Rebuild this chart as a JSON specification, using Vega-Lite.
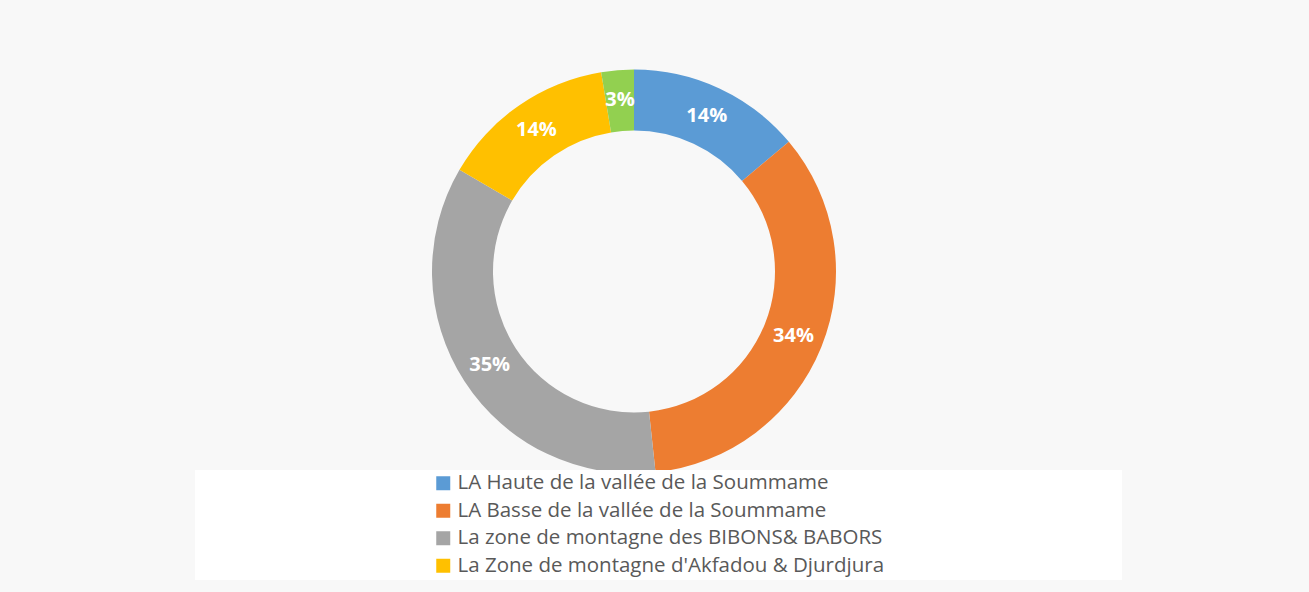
{
  "$schema": "https://vega.github.io/schema/vega-lite/v6.json",
  "autosize": {"type": "none"},
  "width": 1268,
  "height": 543,
  "padding": {"left": 0, "top": 0, "right": 41, "bottom": 49},
  "background": "#f8f8f8",
  "config": {"view": {"stroke": null}},
  "data": {
    "values": [
      {"idx": 1, "zone": "LA Haute de la vallée de la Soummame", "share": 0.139},
      {"idx": 2, "zone": "LA Basse de la vallée de la Soummame", "share": 0.344},
      {"idx": 3, "zone": "La zone de montagne des BIBONS& BABORS", "share": 0.351},
      {"idx": 4, "zone": "La Zone de montagne d'Akfadou & Djurdjura", "share": 0.14},
      {"idx": 5, "zone": "Autres", "share": 0.026}
    ]
  },
  "layer": [
    {
      "mark": {"type": "arc", "outerRadius": 202, "innerRadius": 141},
      "encoding": {
        "theta": {"field": "share", "type": "quantitative", "stack": true},
        "order": {"field": "idx", "type": "quantitative"},
        "color": {
          "field": "zone",
          "type": "nominal",
          "scale": {
            "domain": [
              "LA Haute de la vallée de la Soummame",
              "LA Basse de la vallée de la Soummame",
              "La zone de montagne des BIBONS& BABORS",
              "La Zone de montagne d'Akfadou & Djurdjura",
              "Autres"
            ],
            "range": ["#5b9bd5", "#ed7d31", "#a5a5a5", "#ffc000", "#92d050"]
          },
          "legend": {
            "title": "\u00a0",
            "titleOrient": "right",
            "titlePadding": 235,
            "titleFontSize": 10,
            "orient": "none",
            "legendX": 195,
            "legendY": 470,
            "values": [
              "LA Haute de la vallée de la Soummame",
              "LA Basse de la vallée de la Soummame",
              "La zone de montagne des BIBONS& BABORS",
              "La Zone de montagne d'Akfadou & Djurdjura"
            ],
            "fillColor": "#ffffff",
            "padding": 3,
            "symbolOffset": 235,
            "symbolType": "square",
            "symbolSize": 196,
            "symbolStrokeWidth": 0,
            "labelFont": "Open Sans",
            "labelFontSize": 20.5,
            "labelColor": "#595959",
            "labelOffset": 4,
            "labelLimit": 0,
            "rowPadding": 6.5
          }
        }
      }
    },
    {
      "mark": {"type": "text", "radius": 172, "font": "Open Sans", "fontSize": 20, "fontWeight": "bold", "fill": "#ffffff"},
      "encoding": {
        "theta": {"field": "share", "type": "quantitative", "stack": true},
        "order": {"field": "idx", "type": "quantitative"},
        "detail": {"field": "zone", "type": "nominal"},
        "text": {"field": "share", "type": "quantitative", "format": ".0%"}
      }
    }
  ]
}
